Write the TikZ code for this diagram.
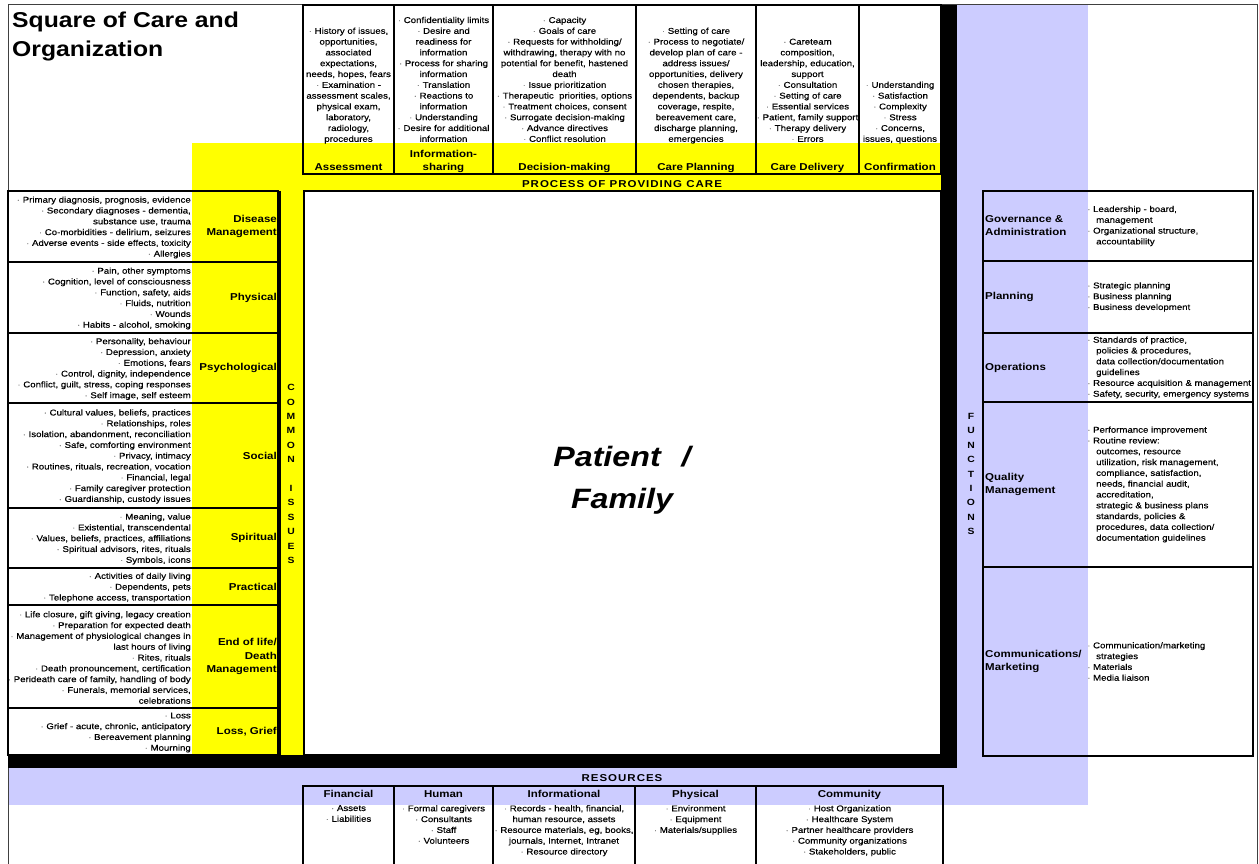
\documentclass[tikz,border=0pt]{standalone}
\usepackage{fontspec}
\setmainfont{Liberation Sans}[FakeStretch=1.15]
\definecolor{careYellow}{HTML}{FFFF00}
\definecolor{orgLavender}{HTML}{CCCCFF}

\newcommand{\smlfont}{\fontsize{8.4}{10.8}\selectfont\addfontfeature{FakeBold=0.4}}
\newcommand{\lblfont}{\fontsize{10}{13.5}\selectfont\bfseries}
\newcommand{\bl}{{\color{black!45}·}\ }
\newcommand{\ind}{\hspace*{9pt}}

% process step: x-left, x-right, name, label, items
\newcommand{\stepcol}[5]{%
  \draw[box] (#1,5) rectangle (#2,174);
  \node[items, align=center, anchor=south, text depth=0pt] (#3) at ({(#1+#2)/2},142) {#5};
  \node[lbl, align=center, anchor=south, text depth=0pt] (#3lbl) at ({(#1+#2)/2},171) {#4};
}
% common issue: top, bottom, name, label, items
\newcommand{\issuerow}[5]{%
  \draw[box] (8,#1) rectangle (278,#2);
  \node[lbl, align=right, anchor=east] (#3) at (277,{(#1+#2)/2}) {#4};
  \node[items, align=right, anchor=east] (#3list) at (191,{(#1+#2)/2+1}) {#5};
}
% function: top, bottom, name, label, items
\newcommand{\funcrow}[5]{%
  \draw[box] (983,#1) rectangle (1253,#2);
  \node[lbl, align=left, anchor=west, font=\fontsize{10}{13}\selectfont\bfseries] (#3) at (985,{(#1+#2)/2}) {#4};
  \node[items, align=left, anchor=west] (#3list) at (1087,{(#1+#2)/2}) {#5};
}
% resource: x-left, x-right, name, label, items
\newcommand{\rescol}[5]{%
  \draw[box] (#1,786) rectangle (#2,880);
  \node[lbl, anchor=base] (#3) at ({(#1+#2)/2},797) {#4};
  \node[items, align=center, anchor=north] (#3list) at ({(#1+#2)/2},805) {#5};
}

\begin{document}
\begin{tikzpicture}[x=1pt, y=-1pt,
    box/.style={draw=black, line width=1.3pt},
    lbl/.style={font=\lblfont, inner sep=0pt},
    items/.style={font=\smlfont, inner sep=0pt},
    banner/.style={font=\fontsize{10}{12}\selectfont\bfseries\addfontfeature{LetterSpace=10}, inner sep=0pt, anchor=base},
    vertword/.style={font=\fontsize{9}{14.4}\selectfont\bfseries, align=center, inner sep=0pt}]

    \useasboundingbox (0,0) rectangle (1259,864);

    % coloured backgrounds
    \fill[careYellow] (192,143) rectangle (941,191);
    \fill[careYellow] (192,143) rectangle (304,755);
    \fill[orgLavender] (957,5) rectangle (1088,805);
    \fill[orgLavender] (8,768) rectangle (1088,805);

    % outer frame
    \draw[black!75, line width=0.8pt] (8,4) rectangle (1257,880);

    % title
    \node[anchor=north west, inner sep=0pt, align=left,
          font=\fontsize{21.5}{29}\selectfont\bfseries] (title) at (12,12)
          {Square of Care and\\Organization};

    % process of providing care
    \stepcol{303}{394}{assess}{Assessment}{\bl History of issues,\\opportunities,\\associated\\expectations,\\needs, hopes, fears\\\bl Examination -\\assessment scales,\\physical exam,\\laboratory,\\radiology,\\procedures}
    \stepcol{394}{493}{inform}{Information-\\sharing}{\bl Confidentiality limits\\\bl Desire and\\readiness for\\information\\\bl Process for sharing\\information\\\bl Translation\\\bl Reactions to\\information\\\bl Understanding\\\bl Desire for additional\\information}
    \stepcol{493}{636}{decide}{Decision-making}{\bl Capacity\\\bl Goals of care\\\bl Requests for withholding/\\withdrawing, therapy with no\\potential for benefit, hastened\\death\\\bl Issue prioritization\\\bl Therapeutic\ \ priorities, options\\\bl Treatment choices, consent\\\bl Surrogate decision-making\\\bl Advance directives\\\bl Conflict resolution}
    \stepcol{636}{756}{plan}{Care Planning}{\bl Setting of care\\\bl Process to negotiate/\\develop plan of care -\\address issues/\\opportunities, delivery\\chosen therapies,\\dependents, backup\\coverage, respite,\\bereavement care,\\discharge planning,\\emergencies}
    \stepcol{756}{859}{deliver}{Care Delivery}{\bl Careteam\\composition,\\leadership, education,\\support\\\bl Consultation\\\bl Setting of care\\\bl Essential services\\\bl Patient, family support\\\bl Therapy delivery\\\bl Errors}
    \stepcol{859}{941}{confirm}{Confirmation}{\bl Understanding\\\bl Satisfaction\\\bl Complexity\\\bl Stress\\\bl Concerns,\\issues, questions}
    \node[banner] (process) at (622,188) {PROCESS OF PROVIDING CARE};

    % common issues
    \issuerow{191}{262}{disease}{Disease\\Management}{\bl Primary diagnosis, prognosis, evidence\\\bl Secondary diagnoses - dementia,\\substance use, trauma\\\bl Co-morbidities - delirium, seizures\\\bl Adverse events - side effects, toxicity\\\bl Allergies}
    \issuerow{262}{333}{physical}{Physical}{\bl Pain, other symptoms\\\bl Cognition, level of consciousness\\\bl Function, safety, aids\\\bl Fluids, nutrition\\\bl Wounds\\\bl Habits - alcohol, smoking}
    \issuerow{333}{403}{psycho}{Psychological}{\bl Personality, behaviour\\\bl Depression, anxiety\\\bl Emotions, fears\\\bl Control, dignity, independence\\\bl Conflict, guilt, stress, coping responses\\\bl Self image, self esteem}
    \issuerow{403}{508}{social}{Social}{\bl Cultural values, beliefs, practices\\\bl Relationships, roles\\\bl Isolation, abandonment, reconciliation\\\bl Safe, comforting environment\\\bl Privacy, intimacy\\\bl Routines, rituals, recreation, vocation\\\bl Financial, legal\\\bl Family caregiver protection\\\bl Guardianship, custody issues}
    \issuerow{508}{568}{spiritual}{Spiritual}{\bl Meaning, value\\\bl Existential, transcendental\\\bl Values, beliefs, practices, affiliations\\\bl Spiritual advisors, rites, rituals\\\bl Symbols, icons}
    \issuerow{568}{605}{practical}{Practical}{\bl Activities of daily living\\\bl Dependents, pets\\\bl Telephone access, transportation}
    \issuerow{605}{708}{endlife}{End of life/\\Death\\Management}{\bl Life closure, gift giving, legacy creation\\\bl Preparation for expected death\\\bl Management of physiological changes in\\last hours of living\\\bl Rites, rituals\\\bl Death pronouncement, certification\\\bl Perideath care of family, handling of body\\\bl Funerals, memorial services,\\celebrations}
    \issuerow{708}{755}{loss}{Loss, Grief}{\bl Loss\\\bl Grief - acute, chronic, anticipatory\\\bl Bereavement planning\\\bl Mourning}
    \draw[line width=3pt] (279.5,191) -- (279.5,755);
    \node[vertword] (common) at (291,474) {C\\O\\M\\M\\O\\N\\[14.4pt]I\\S\\S\\U\\E\\S};

    % patient / family
    \draw[box, fill=white] (304,191) rectangle (941,755);
    \node[font=\fontsize{28}{42}\selectfont\bfseries\itshape, align=center] (patient) at (622,480) {Patient\hspace{12pt} /\\Family};

    % black bars
    \fill (941,5) rectangle (957,768);
    \fill (8,755) rectangle (957,768);

    % functions
    \node[vertword] (functions) at (971,474) {F\\U\\N\\C\\T\\I\\O\\N\\S};
    \funcrow{191}{261}{govern}{Governance \&\\Administration}{\bl Leadership - board,\\\ind management\\\bl Organizational structure,\\\ind accountability}
    \funcrow{261}{333}{planning}{Planning}{\bl Strategic planning\\\bl Business planning\\\bl Business development}
    \funcrow{333}{402}{operations}{Operations}{\bl Standards of practice,\\\ind policies \& procedures,\\\ind data collection/documentation\\\ind guidelines\\\bl Resource acquisition \& management\\\bl Safety, security, emergency systems}
    \funcrow{402}{567}{quality}{Quality\\Management}{\bl Performance improvement\\\bl Routine review:\\\ind outcomes, resource\\\ind utilization, risk management,\\\ind compliance, satisfaction,\\\ind needs, financial audit,\\\ind accreditation,\\\ind strategic \& business plans\\\ind standards, policies \&\\\ind procedures, data collection/\\\ind documentation guidelines}
    \funcrow{567}{756}{communic}{Communications/\\Marketing}{\bl Communication/marketing\\\ind strategies\\\bl Materials\\\bl Media liaison}

    % resources
    \node[banner] (resources) at (622,781.5) {RESOURCES};
    \rescol{303}{394}{financial}{Financial}{\bl Assets\\\bl Liabilities}
    \rescol{394}{493}{human}{Human}{\bl Formal caregivers\\\bl Consultants\\\bl Staff\\\bl Volunteers}
    \rescol{493}{635}{informational}{Informational}{\bl Records - health, financial,\\human resource, assets\\\bl Resource materials, eg, books,\\journals, Internet, Intranet\\\bl Resource directory}
    \rescol{635}{756}{physres}{Physical}{\bl Environment\\\bl Equipment\\\bl Materials/supplies}
    \rescol{756}{943}{community}{Community}{\bl Host Organization\\\bl Healthcare System\\\bl Partner healthcare providers\\\bl Community organizations\\\bl Stakeholders, public}

\end{tikzpicture}
\end{document}
